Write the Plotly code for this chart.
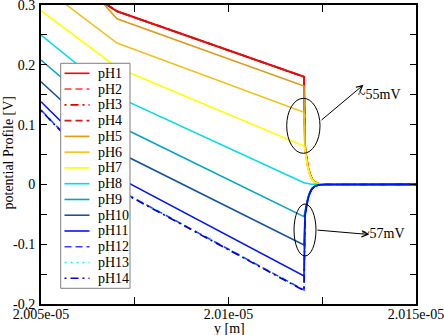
import plotly.graph_objects as go

# ---------------- data ----------------
X = [2.00500e-5, 2.007027e-5, 2.012013e-5, 2.012027e-5, 2.012040e-5, 2.012067e-5,
     2.012093e-5, 2.012120e-5, 2.012173e-5, 2.012227e-5, 2.012307e-5, 2.012413e-5,
     2.012573e-5, 2.015000e-5]

pH1 = [0.372, 0.2895, 0.180, 0.070, 0.065, 0.050, 0.039, 0.029, 0.017, 0.009, 0.0035, 0.001, 0.0002, 0.0]
pH2 = [0.372, 0.2895, 0.180, 0.070, 0.065, 0.050, 0.039, 0.029, 0.017, 0.009, 0.0035, 0.001, 0.0002, 0.0]
pH3 = [0.372, 0.2895, 0.180, 0.070, 0.065, 0.050, 0.039, 0.029, 0.017, 0.009, 0.0035, 0.001, 0.0002, 0.0]
pH4 = [0.372, 0.2895, 0.180, 0.070, 0.065, 0.050, 0.039, 0.029, 0.017, 0.009, 0.0035, 0.001, 0.0002, 0.0]
pH5 = [0.417, 0.2771, 0.1645, 0.068, 0.063, 0.049, 0.037, 0.029, 0.016, 0.009, 0.0034, 0.001, 0.0002, 0.0]
pH6 = [0.3324, 0.2363, 0.1206, 0.066, 0.061, 0.048, 0.036, 0.028, 0.016, 0.0086, 0.0033, 0.001, 0.0002, 0.0]
pH7 = [0.2905, 0.1955, 0.0642, 0.062, 0.058, 0.045, 0.034, 0.026, 0.015, 0.0081, 0.0031, 0.0009, 0.0002, 0.0]
pH8 = [0.2498, 0.1467, 0.0028, 0.0025, 0.0023, 0.0018, 0.0014, 0.001, 0.0006, 0.0003, 0.0001, 0.0, 0.0, 0.0]
pH9 = [0.2080, 0.0992, -0.0540, -0.050, -0.0465, -0.036, -0.0275, -0.021, -0.012, -0.0065, -0.0025, -0.0008, -0.0002, 0.0]
pH10 = [0.1717, 0.0550, -0.1013, -0.054, -0.050, -0.039, -0.0297, -0.0227, -0.013, -0.007, -0.0027, -0.0008, -0.0002, 0.0]
pH11 = [0.1383, 0.0125, -0.1532, -0.057, -0.053, -0.041, -0.031, -0.024, -0.0137, -0.0074, -0.0029, -0.0009, -0.0002, 0.0]
pH12 = [0.1244, -0.0077, -0.1766, -0.058, -0.054, -0.042, -0.032, -0.0244, -0.014, -0.0075, -0.0029, -0.0009, -0.0002, 0.0]
pH13 = [0.1244, -0.0077, -0.1766, -0.058, -0.054, -0.042, -0.032, -0.0244, -0.014, -0.0075, -0.0029, -0.0009, -0.0002, 0.0]
pH14 = [0.1236, -0.0085, -0.1776, -0.058, -0.054, -0.042, -0.032, -0.0244, -0.014, -0.0075, -0.0029, -0.0009, -0.0002, 0.0]

SERIES_NAMES = ["pH1", "pH2", "pH3", "pH4", "pH5", "pH6", "pH7",
                "pH8", "pH9", "pH10", "pH11", "pH12", "pH13", "pH14"]
SERIES_VALUES = [pH1, pH2, pH3, pH4, pH5, pH6, pH7, pH8, pH9, pH10, pH11, pH12, pH13, pH14]

X_TICKS = [2.005e-5, 2.01e-5, 2.015e-5]
X_TICK_LABELS = ["2.005e-05", "2.01e-05", "2.015e-05"]
X_MINOR = [2.0075e-5, 2.0125e-5]
Y_TICKS = [-0.2, -0.1, 0.0, 0.1, 0.2, 0.3]
Y_TICK_LABELS = ["-0.2", "-0.1", "0", "0.1", "0.2", "0.3"]
Y_MINOR = [-0.15, -0.05, 0.05, 0.15, 0.25]

ANNOT_TEXTS = ["~55mV", "~57mV"]
X_TITLE = "y [m]"
Y_TITLE = "potential Profile [V]"

# ---------------- styles ----------------
DOTDASH = "2px,4px,8px,4px"
STYLES = [
    ("#ff0000", "solid", 2.0),
    ("#ff3838", "7px,4px", 1.6),
    ("#e00000", DOTDASH, 1.6),
    ("#d01818", "7px,4px", 1.6),
    ("#e09a1a", "solid", 1.6),
    ("#f2c21c", "solid", 1.6),
    ("#ffff00", "solid", 1.6),
    ("#00dce8", "solid", 1.6),
    ("#00a6c6", "solid", 1.6),
    ("#14529e", "solid", 1.6),
    ("#0014ff", "solid", 1.6),
    ("#3343ff", "7px,4px", 1.6),
    ("#00ffff", "2px,4px", 1.6),
    ("#0000e0", DOTDASH, 1.6),
]
# drawing order (the solid pH11 curve ends up on top along the zero tail)
DRAW_ORDER = [0, 1, 2, 3, 4, 5, 6, 7, 8, 9, 12, 11, 13, 10]

FONT = "Liberation Serif"

W, H = 444, 335
L, R, T, B = 41, 28, 5, 31
PW, PH = W - L - R, H - T - B


def px(xp):
    return (xp - L) / PW


def py(yp):
    return (H - B - yp) / PH


fig = go.Figure()
for i in DRAW_ORDER:
    col, dash, wd = STYLES[i]
    fig.add_trace(go.Scatter(x=X, y=SERIES_VALUES[i], mode="lines", name=SERIES_NAMES[i],
                             line=dict(color=col, width=wd, dash=dash),
                             showlegend=False, hoverinfo="skip"))

shapes = []
# legend box
shapes.append(dict(type="rect", xref="paper", yref="paper",
                   x0=px(60.7), x1=px(130), y0=py(288.3), y1=py(63.3),
                   line=dict(color="#7f7f7f", width=1), fillcolor="white", layer="above"))
annotations = []
row0, step = 73.3, 15.77
for i, (name, (col, dash, wd)) in enumerate(zip(SERIES_NAMES, STYLES)):
    yy = row0 + i * step
    shapes.append(dict(type="line", xref="paper", yref="paper",
                       x0=px(64.5), x1=px(89.5), y0=py(yy), y1=py(yy),
                       line=dict(color=col, width=1.6, dash=dash), layer="above"))
    annotations.append(dict(xref="paper", yref="paper", x=px(96), y=py(yy),
                            text=name, showarrow=False, xanchor="left", yanchor="middle",
                            font=dict(family=FONT, size=14, color="black")))

# ellipses (data coordinates)
shapes.append(dict(type="circle", xref="x", yref="y",
                   x0=2.011552e-5, x1=2.01244e-5, y0=0.052, y1=0.144,
                   line=dict(color="black", width=1), layer="above"))
shapes.append(dict(type="circle", xref="x", yref="y",
                   x0=2.011747e-5, x1=2.012333e-5, y0=-0.1197, y1=-0.0328,
                   line=dict(color="black", width=1), layer="above"))

# arrows
annotations.append(dict(xref="x", yref="y", axref="x", ayref="y",
                        x=2.0136e-5, y=0.1665, ax=2.01244e-5, ay=0.1055,
                        text="", showarrow=True, arrowhead=5, arrowsize=1.2,
                        arrowwidth=1, arrowcolor="black", standoff=0, startstandoff=0))
annotations.append(dict(xref="x", yref="y", axref="x", ayref="y",
                        x=2.01375e-5, y=-0.0838, ax=2.012333e-5, ay=-0.0762,
                        text="", showarrow=True, arrowhead=5, arrowsize=1.2,
                        arrowwidth=1, arrowcolor="black", standoff=0, startstandoff=0))
annotations.append(dict(xref="paper", yref="paper", x=px(356), y=py(94),
                        text=ANNOT_TEXTS[0], showarrow=False, xanchor="left", yanchor="middle",
                        font=dict(family=FONT, size=14, color="black")))
annotations.append(dict(xref="paper", yref="paper", x=px(360), y=py(234),
                        text=ANNOT_TEXTS[1], showarrow=False, xanchor="left", yanchor="middle",
                        font=dict(family=FONT, size=14, color="black")))
# axis titles
annotations.append(dict(xref="paper", yref="paper", x=px(229), y=py(328),
                        text=X_TITLE, showarrow=False, xanchor="center", yanchor="middle",
                        font=dict(family=FONT, size=14, color="black")))
annotations.append(dict(xref="paper", yref="paper", x=px(7.5), y=py(153),
                        text=Y_TITLE, showarrow=False, xanchor="center", yanchor="middle",
                        textangle=-90,
                        font=dict(family=FONT, size=14, color="black")))

axis_common = dict(showline=True, linewidth=2, linecolor="black", mirror="ticks",
                   ticks="inside", tickwidth=1, tickcolor="black",
                   showgrid=False, zeroline=False, ticklabeloverflow="allow",
                   automargin=False,
                   tickfont=dict(family=FONT, size=14, color="black"))

fig.update_layout(
    width=W, height=H,
    margin=dict(l=L, r=R, t=T, b=B, pad=0, autoexpand=False),
    paper_bgcolor="white", plot_bgcolor="white",
    showlegend=False,
    shapes=shapes, annotations=annotations,
    xaxis=dict(range=[2.005e-5, 2.015e-5], tickmode="array", tickvals=X_TICKS,
               ticktext=X_TICK_LABELS, ticklen=7, ticklabelstandoff=-4,
               minor=dict(tickmode="array", tickvals=X_MINOR, ticks="inside",
                          ticklen=7, tickwidth=1, tickcolor="black"),
               **axis_common),
    yaxis=dict(range=[-0.2, 0.3], tickmode="array", tickvals=Y_TICKS,
               ticktext=Y_TICK_LABELS, ticklen=6, ticklabelstandoff=1,
               minor=dict(tickmode="array", tickvals=Y_MINOR, ticks="inside",
                          ticklen=6, tickwidth=1, tickcolor="black"),
               **axis_common),
)

fig.write_html("out.html")
